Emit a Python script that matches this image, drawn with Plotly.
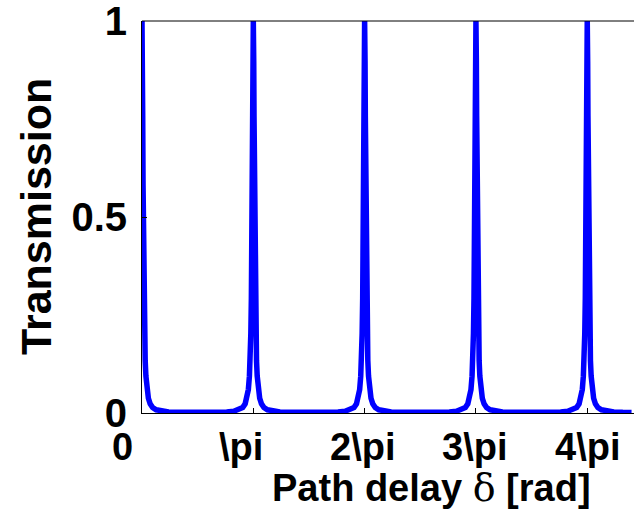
import math
import plotly.graph_objects as go

# ---- data ----
peak_centers_rad = [0.0, math.pi, 2 * math.pi, 3 * math.pi, 4 * math.pi]
# one-sided peak profile: offset from a peak [rad] and transmission
offset_rad = [0.0, 0.006, 0.012, 0.02, 0.03, 0.04, 0.055, 0.07, 0.09, 0.11,
              0.14, 0.18, 0.23, 0.3, 0.4, 0.55, 0.75, 1.0, 1.25, 1.5708]
transmission = [1.0, 0.972, 0.897, 0.758, 0.581, 0.439, 0.293, 0.203, 0.134, 0.094,
                0.060, 0.0376, 0.0235, 0.0141, 0.0082, 0.0046, 0.0027, 0.00176, 0.00139, 0.00125]

xtick_vals = [0.0, math.pi, 2 * math.pi, 3 * math.pi, 4 * math.pi]
xtick_text = ["0", "\\pi", "2\\pi", "3\\pi", "4\\pi"]
xtick_shift = [-20, -12, -2, -1, 0]
ytick_vals = [0, 0.5, 1]
ytick_text = ["0", "0.5", "1"]
x_max = 4.42 * math.pi

# build the curve from the peak table
xs, ys = [], []
for c in peak_centers_rad:
    for o, t in zip(reversed(offset_rad[1:]), reversed(transmission[1:])):
        if c - o >= 0:
            xs.append(c - o); ys.append(t)
    xs.append(c); ys.append(transmission[0])
    for o, t in zip(offset_rad[1:-1], transmission[1:-1]):
        xs.append(c + o); ys.append(t)

FONT = "Liberation Sans"

fig = go.Figure()
fig.add_trace(go.Scatter(x=xs, y=ys, mode="lines",
                         line=dict(color="#0000FF", width=5.5), hoverinfo="skip"))

fig.update_layout(
    width=634, height=517,
    margin=dict(l=142, r=0, t=21, b=104),
    paper_bgcolor="white", plot_bgcolor="white",
    showlegend=False,
    font=dict(family=FONT, size=40, color="black"),
)
fig.update_xaxes(range=[0, x_max], showgrid=False, zeroline=False,
                 showline=True, linecolor="black", linewidth=1,
                 ticks="inside", ticklen=5, tickcolor="black",
                 tickvals=xtick_vals, showticklabels=False)
fig.update_yaxes(range=[0, 1], showgrid=False, zeroline=False,
                 showline=True, linecolor="black", linewidth=1,
                 ticks="inside", ticklen=5, tickcolor="black",
                 tickvals=ytick_vals, ticktext=ytick_text,
                 tickfont=dict(family=FONT, size=40, weight="bold"),
                 ticklabelstandoff=6, ticklabeloverflow="allow")

# top border of the axes box
fig.add_shape(type="line", xref="paper", yref="paper", x0=0, x1=1, y0=1, y1=1,
              line=dict(color="black", width=1), layer="above")

for v, t, s in zip(xtick_vals, xtick_text, xtick_shift):
    fig.add_annotation(x=v, y=0, xref="x", yref="paper", text=t, showarrow=False,
                       xanchor="center", yanchor="top", xshift=s, yshift=-11,
                       font=dict(family=FONT, size=38, weight="bold"))

fig.add_annotation(x=(431 - 142) / (634 - 142), y=(413 - 488) / (413 - 21),
                   xref="paper", yref="paper", yanchor="middle",
                   text="Path delay <span style='font-family:DejaVu Serif;font-weight:normal'>δ</span> [rad]",
                   showarrow=False, font=dict(family=FONT, size=38, weight="bold"))

fig.add_annotation(x=(36 - 142) / (634 - 142), y=(413 - 217) / (413 - 21),
                   xref="paper", yref="paper",
                   text="Transmission", textangle=-90, showarrow=False,
                   xanchor="center", yanchor="middle",
                   font=dict(family=FONT, size=43, weight="bold"))

fig.write_html("out.html")
